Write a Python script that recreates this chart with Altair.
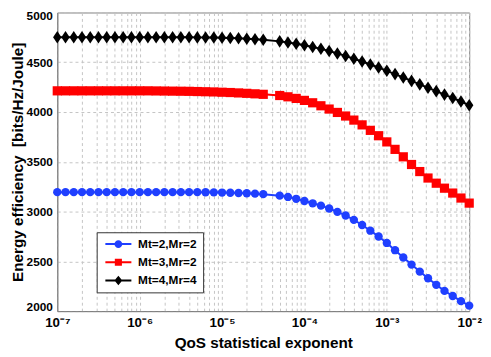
import altair as alt
import pandas as pd

# x positions as log10 exponents (one sample missing near 10^-4.4 in the reference)
exponents = [-7.0, -6.9, -6.8, -6.7, -6.6, -6.5, -6.4, -6.3, -6.2, -6.1,
             -6.0, -5.9, -5.8, -5.7, -5.6, -5.5, -5.4, -5.3, -5.2, -5.1,
             -5.0, -4.9, -4.8, -4.7, -4.6, -4.5, -4.3, -4.2, -4.1, -4.0,
             -3.9, -3.8, -3.7, -3.6, -3.5, -3.4, -3.3, -3.2, -3.1, -3.0,
             -2.9, -2.8, -2.7, -2.6, -2.5, -2.4, -2.3, -2.2, -2.1, -2.0]

series_names = ["Mt=2,Mr=2", "Mt=3,Mr=2", "Mt=4,Mr=4"]

ee_mt2_mr2 = [3195, 3195, 3195, 3195, 3195, 3195, 3195, 3195, 3195, 3195,
              3195, 3195, 3195, 3195, 3195, 3195, 3195, 3195, 3194, 3193,
              3191, 3189, 3187, 3184, 3180, 3175, 3160, 3147, 3128, 3106,
              3083, 3060, 3031, 2997, 2961, 2917, 2865, 2808, 2750, 2685,
              2612, 2538, 2467, 2397, 2330, 2264, 2203, 2152, 2100, 2055]

ee_mt3_mr2 = [4213, 4213, 4213, 4213, 4213, 4213, 4213, 4213, 4213, 4213,
              4213, 4213, 4212, 4211, 4210, 4209, 4208, 4206, 4204, 4202,
              4199, 4196, 4192, 4188, 4183, 4178, 4166, 4153, 4137, 4117,
              4093, 4063, 4030, 3996, 3960, 3919, 3871, 3816, 3762, 3700,
              3625, 3550, 3473, 3402, 3337, 3285, 3235, 3186, 3136, 3085]

ee_mt4_mr4 = [4752, 4752, 4752, 4752, 4752, 4752, 4752, 4752, 4752, 4752,
              4752, 4752, 4752, 4752, 4752, 4751, 4751, 4750, 4749, 4748,
              4746, 4744, 4741, 4737, 4732, 4726, 4710, 4699, 4686, 4671,
              4654, 4635, 4613, 4589, 4563, 4536, 4508, 4478, 4447, 4414,
              4381, 4347, 4313, 4278, 4244, 4210, 4175, 4141, 4106, 4068]

colors = ["#1f3fff", "#ff0000", "#000000"]
y_ticks = [2000, 2500, 3000, 3500, 4000, 4500, 5000]
x_decades = [-7, -6, -5, -4, -3, -2]
sup_labels = {-7: "10⁻⁷", -6: "10⁻⁶", -5: "10⁻⁵", -4: "10⁻⁴", -3: "10⁻³", -2: "10⁻²"}

rows = []
for name, vals in zip(series_names, [ee_mt2_mr2, ee_mt3_mr2, ee_mt4_mr4]):
    for e, v in zip(exponents, vals):
        rows.append({"series": name, "qos": 10.0 ** e, "ee": v})
df = pd.DataFrame(rows)

x_grid = [m * 10.0 ** k for k in x_decades[:-1] for m in range(1, 10)] + [10.0 ** x_decades[-1]]

lg = "log(datum.value)/LN10"
rd = f"round({lg})"
label_expr = f"abs({lg} - {rd}) > 0.01 ? '' : " + " : ".join(
    f"{rd} == {k} ? '{s}'" for k, s in sup_labels.items()) + " : ''"

FONT = "Liberation Sans"

x_enc = alt.X(
    "qos:Q",
    scale=alt.Scale(type="log", domain=[1e-7, 1e-2], nice=False),
    axis=alt.Axis(values=x_grid, labelExpr=label_expr, title="QoS statistical exponent",
                  grid=True, gridDash=[3, 3], gridColor="#c4c4c4", ticks=False,
                  labelOverlap=False, labelFlush=False, labelPadding=5, titlePadding=6,
                  labelFontSize=13.5, titleFontSize=15.5),
)
y_enc = alt.Y(
    "ee:Q",
    scale=alt.Scale(domain=[2000, 5000], nice=False, zero=False),
    axis=alt.Axis(values=y_ticks, format="d", title="Energy efficiency\u00a0\u00a0[bits/Hz/Joule]",
                  grid=True, gridDash=[3, 3], gridColor="#c4c4c4", ticks=False,
                  labelFlush=True, labelFlushOffset=2,
                  labelPadding=5, titlePadding=1, labelFontSize=12, titleFontSize=15.5),
)

color_scale = alt.Scale(domain=series_names, range=colors)
plot_shapes = ["circle", "M-1.1,-1.1H1.1V1.1H-1.1Z", "M0,-1.5L1,0L0,1.5L-1,0Z"]
legend_shapes = [
    "M-3.3,-0.25H3.3V0.25H-3.3Z M-1,0A1,1 0 1,1 1,0A1,1 0 1,1 -1,0Z",
    "M-3.3,-0.25H3.3V0.25H-3.3Z M-0.9,-0.9H0.9V0.9H-0.9Z",
    "M-3.3,-0.25H3.3V0.25H-3.3Z M0,-1.2L1,0L0,1.2L-1,0Z",
]

base = alt.Chart(df)

lines = base.mark_line(strokeWidth=2).encode(
    x=x_enc, y=y_enc,
    color=alt.Color("series:N", scale=color_scale, legend=None),
    detail="series:N",
)

points = base.mark_point(filled=True, size=72, opacity=1).encode(
    x=x_enc, y=y_enc,
    color=alt.Color("series:N", scale=color_scale, legend=None),
    shape=alt.Shape("series:N", scale=alt.Scale(domain=series_names, range=plot_shapes), legend=None),
)

legend_kw = dict(
    title=None, orient="none", legendX=40, legendY=223, padding=6,
    strokeColor="#333333", fillColor="white", labelFont=FONT, labelFontSize=12,
    labelFontWeight="bold", labelColor="black", symbolSize=64, symbolOffset=10,
    labelOffset=14, rowPadding=6.5, symbolStrokeWidth=0,
)

legend_layer = base.transform_filter("false").mark_point(filled=True, size=64, opacity=1).encode(
    x=x_enc, y=y_enc,
    color=alt.Color("series:N", scale=color_scale, legend=alt.Legend(**legend_kw)),
    shape=alt.Shape("series:N", scale=alt.Scale(domain=series_names, range=legend_shapes),
                    legend=alt.Legend(**legend_kw)),
)

chart = alt.layer(lines, points, legend_layer).resolve_scale(
    color="independent", shape="independent"
).properties(
    width=418, height=303,
    autosize=alt.AutoSizeParams(type="none"),
    padding={"left": 50, "top": 2, "right": 14, "bottom": 44},
).configure_view(
    stroke="#7f7f7f", strokeWidth=1
).configure_axis(
    labelFont=FONT, titleFont=FONT, labelFontWeight="bold", titleFontWeight="bold",
    labelColor="black", titleColor="black", domainColor="#7f7f7f",
)

chart.save("out.html", embed_options={"renderer": "svg", "actions": False})
